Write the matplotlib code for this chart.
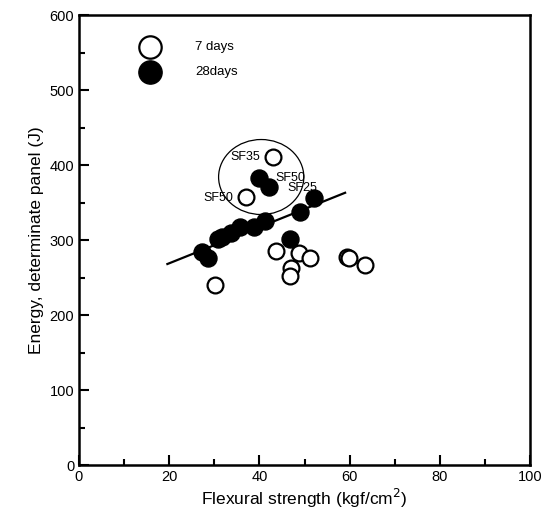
import matplotlib.pyplot as plt
from matplotlib.patches import Ellipse
from matplotlib.ticker import MultipleLocator

plt.rcParams['font.family'] = ['Liberation Sans', 'DejaVu Sans']

# 7 days (open circles)
x7 = [30.2, 43.1, 37.1, 43.6, 48.7, 51.3, 46.9, 46.7, 59.4, 59.8, 63.3]
y7 = [240, 411, 357, 285, 283, 276, 263, 252, 278, 276, 267]

# 28 days (filled circles)
x28 = [39.8, 42.2, 52.0, 49.1, 41.3, 38.7, 35.8, 33.6, 30.9, 31.8, 27.3, 28.7, 46.7]
y28 = [383, 371, 356, 337, 325, 317, 318, 309, 302, 304, 284, 276, 301]

# regression line end points
fit_x = [19.6, 59]
fit_y = [268, 363]

labels = ['SF35', 'SF50', 'SF25', 'SF50']
label_x = [33.6, 43.6, 46.2, 27.6]
label_y = [411, 383, 369, 356]

fig = plt.figure(figsize=(5.47, 5.18), dpi=100)
ax = fig.add_axes([0.1444, 0.1023, 0.8246, 0.8687])

ax.plot(fit_x, fit_y, color='black', lw=1.6, zorder=2)
ax.scatter(x7, y7, s=130, facecolors='white', edgecolors='black', linewidths=1.6, zorder=3)
ax.scatter(x28, y28, s=150, facecolors='black', edgecolors='black', zorder=4)

ax.add_patch(Ellipse((40.4, 384), 18.9, 100, fill=False, edgecolor='black', lw=0.9, zorder=1))

for t, lx, ly in zip(labels, label_x, label_y):
    ax.text(lx, ly, t, fontsize=9, va='center', ha='left', zorder=5)

# legend
ax.scatter([15.8], [557], s=260, facecolors='white', edgecolors='black', linewidths=1.6)
ax.scatter([15.8], [524], s=280, facecolors='black', edgecolors='black')
ax.text(25.8, 557, '7 days', fontsize=9.5, va='center')
ax.text(25.8, 524, '28days', fontsize=9.5, va='center')

ax.set_xlim(0, 100)
ax.set_ylim(0, 600)
ax.xaxis.set_major_locator(MultipleLocator(20))
ax.xaxis.set_minor_locator(MultipleLocator(10))
ax.yaxis.set_major_locator(MultipleLocator(100))
ax.yaxis.set_minor_locator(MultipleLocator(50))
ax.tick_params(which='major', direction='in', length=7, width=1.5, labelsize=10.5)
ax.tick_params(which='minor', direction='in', length=4, width=1.5)
for s in ax.spines.values():
    s.set_linewidth(1.8)

ax.set_xlabel('Flexural strength (kgf/cm$^{2}$)', fontsize=12.5, labelpad=2)
ax.set_ylabel('Energy, determinate panel (J)', fontsize=12.5)

fig.savefig('out.png', dpi=100)
